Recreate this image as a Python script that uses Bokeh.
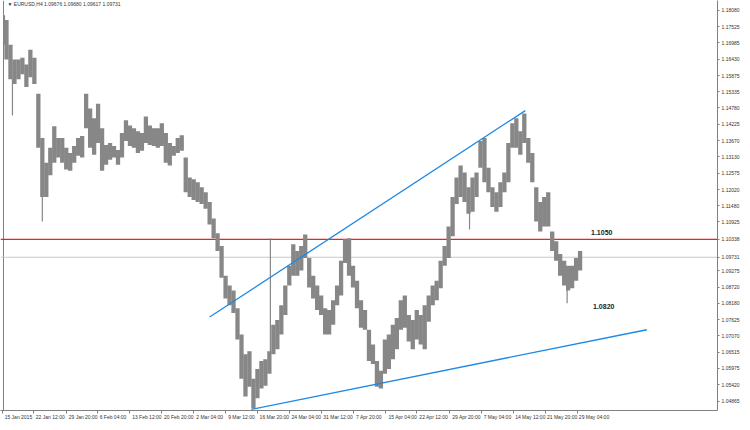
from bokeh.plotting import figure
from bokeh.models import Range1d, FixedTicker, PrintfTickFormatter, ColumnDataSource
from bokeh.core.properties import value
from bokeh.embed import file_html
from bokeh.resources import INLINE

# ---- data (EURUSD H4) ----
bar_x = [6, 10, 14, 18, 22, 26, 30, 34, 38, 42, 46, 50, 54, 58, 62, 66, 70, 74, 78, 82,
         86, 90, 94, 98, 102, 106, 110, 114, 118, 122, 126, 130, 134, 138, 142, 146, 150, 154, 158, 162,
         166, 170, 174, 178, 182, 186, 190, 194, 198, 202, 206, 210, 214, 218, 222, 226, 230, 234, 238, 242,
         246, 250, 254, 258, 262, 266, 270, 274, 278, 282, 286, 290, 294, 298, 302, 306, 310, 314, 318, 322,
         326, 330, 334, 338, 342, 346, 350, 354, 358, 362, 366, 370, 374, 378, 382, 386, 390, 394, 398, 402,
         406, 410, 414, 418, 422, 426, 430, 434, 438, 442, 446, 450, 454, 458, 462, 466, 470, 474, 478, 482,
         486, 490, 494, 498, 502, 506, 510, 514, 518, 522, 526, 530, 534, 538, 542, 546, 550, 554, 558, 562,
         566, 570, 574, 578, 582]
bar_high = [1.1775, 1.1692, 1.1642, 1.1642, 1.1648, 1.1625, 1.1675, 1.1648, 1.1526, 1.1376,
            1.1293, 1.1343, 1.1416, 1.1376, 1.1376, 1.1343, 1.1326, 1.1349, 1.1376, 1.1383,
            1.1526, 1.1476, 1.1443, 1.1492, 1.1409, 1.1353, 1.1359, 1.1349, 1.1336, 1.1393,
            1.1436, 1.1419, 1.1409, 1.1399, 1.1393, 1.1449, 1.1419, 1.1409, 1.1409, 1.1426,
            1.1393, 1.1359, 1.1349, 1.1376, 1.1386, 1.1310, 1.1243, 1.1237, 1.1227, 1.1210,
            1.1193, 1.1160, 1.1104, 1.1054, 1.1011, 1.0911, 1.0878, 1.0861, 1.0801, 1.0712,
            1.0645, 1.0655, 1.0562, 1.0595, 1.0622, 1.0628, 1.0655, 1.0745, 1.0761, 1.0811,
            1.0878, 1.0944, 1.1017, 1.0994, 1.1011, 1.1050, 1.0971, 1.0911, 1.0878, 1.0844,
            1.0801, 1.0795, 1.0828, 1.0878, 1.0961, 1.1034, 1.1037, 1.0944, 1.0894, 1.0828,
            1.0795, 1.0728, 1.0678, 1.0622, 1.0589, 1.0695, 1.0712, 1.0745, 1.0768, 1.0828,
            1.0844, 1.0778, 1.0761, 1.0795, 1.0778, 1.0811, 1.0844, 1.0878, 1.0894, 1.0961,
            1.1011, 1.1077, 1.1177, 1.1243, 1.1283, 1.1260, 1.1210, 1.1243, 1.1260, 1.1366,
            1.1376, 1.1276, 1.1210, 1.1193, 1.1227, 1.1260, 1.1359, 1.1426, 1.1443, 1.1399,
            1.1459, 1.1376, 1.1326, 1.1210, 1.1160, 1.1177, 1.1193, 1.1060, 1.1027, 1.0984,
            1.0961, 1.0944, 1.0944, 1.0971, 1.0994]
bar_low = [1.1642, 1.1575, 1.1559, 1.1575, 1.1592, 1.1549, 1.1582, 1.1559, 1.1343, 1.1177,
           1.1177, 1.1250, 1.1293, 1.1310, 1.1293, 1.1270, 1.1266, 1.1293, 1.1316, 1.1310,
           1.1409, 1.1343, 1.1320, 1.1359, 1.1266, 1.1286, 1.1303, 1.1310, 1.1286, 1.1310,
           1.1366, 1.1349, 1.1343, 1.1326, 1.1333, 1.1359, 1.1353, 1.1349, 1.1343, 1.1349,
           1.1293, 1.1283, 1.1316, 1.1326, 1.1333, 1.1193, 1.1177, 1.1167, 1.1160, 1.1153,
           1.1137, 1.1084, 1.1037, 1.0994, 1.0904, 1.0834, 1.0811, 1.0785, 1.0695, 1.0562,
           1.0502, 1.0535, 1.0462, 1.0496, 1.0529, 1.0539, 1.0579, 1.0645, 1.0662, 1.0712,
           1.0778, 1.0878, 1.0911, 1.0911, 1.0928, 1.0971, 1.0871, 1.0834, 1.0795, 1.0778,
           1.0712, 1.0712, 1.0745, 1.0811, 1.0844, 1.0954, 1.0911, 1.0871, 1.0801, 1.0735,
           1.0728, 1.0622, 1.0612, 1.0535, 1.0529, 1.0579, 1.0595, 1.0628, 1.0662, 1.0728,
           1.0735, 1.0688, 1.0662, 1.0695, 1.0678, 1.0662, 1.0755, 1.0811, 1.0828, 1.0868,
           1.0944, 1.0971, 1.1044, 1.1153, 1.1177, 1.1160, 1.1120, 1.1127, 1.1177, 1.1276,
           1.1227, 1.1193, 1.1143, 1.1127, 1.1143, 1.1193, 1.1227, 1.1343, 1.1343, 1.1320,
           1.1359, 1.1293, 1.1227, 1.1094, 1.1060, 1.1077, 1.1077, 1.0994, 1.0961, 1.0911,
           1.0878, 1.0861, 1.0868, 1.0894, 1.0928]

spike_x = [4, 12, 42, 271, 471, 569]
spike_high = [1.1791, 1.1575, 1.1193, 1.1037, 1.1127, 1.0878]
spike_low = [1.1692, 1.1452, 1.1094, 1.0652, 1.1067, 1.0818]

upper_trend_x = [210, 527]
upper_trend_price = [1.0771, 1.1469]
lower_trend_x = [252, 649]
lower_trend_price = [1.0459, 1.0728]

resistance_level = 1.10338
current_price = 1.09731

note_text = ["1.1050", "1.0820"]
note_x = [593, 595]
note_price = [1.1057, 1.0805]

header_text = "\u25bc EURUSD,H4  1.09676 1.09680 1.09617 1.09731"

price_ticks = [1.18080, 1.17525, 1.16985, 1.16430, 1.15875, 1.15335, 1.14780, 1.14225,
               1.13670, 1.13130, 1.12575, 1.12020, 1.11480, 1.10925, 1.10338, 1.09731,
               1.09275, 1.08720, 1.08180, 1.07625, 1.07070, 1.06515, 1.05975, 1.05420,
               1.04865, 1.04325]

date_labels = ["15 Jan 2015", "22 Jan 12:00", "29 Jan 20:00", "6 Feb 04:00", "13 Feb 12:00",
               "20 Feb 20:00", "2 Mar 04:00", "9 Mar 12:00", "16 Mar 20:00", "24 Mar 04:00",
               "31 Mar 12:00", "7 Apr 20:00", "15 Apr 04:00", "22 Apr 12:00", "29 Apr 20:00",
               "7 May 04:00", "14 May 12:00", "21 May 20:00", "29 May 04:00"]
date_sep_bars = [2, 33, 66, 97, 130, 162, 194, 226, 258, 290, 322, 354, 387, 418, 451, 483, 515, 547, 579]

FONT = "Liberation Sans"
GRAY = "#808080"
BAR = "#878787"

xr = Range1d(0, 720)
yr = Range1d(1.0455, 1.18412)
p = figure(width=742, height=422, x_range=xr, y_range=yr,
           output_backend="svg", toolbar_location=None, y_axis_location="right",
           min_border_left=0, min_border_right=22, min_border_top=0, min_border_bottom=10,
           background_fill_color="white", border_fill_color="white", outline_line_color=None)
p.xgrid.visible = False
p.ygrid.visible = False

# right price axis
ya = p.yaxis[0]
ya.ticker = FixedTicker(ticks=price_ticks)
ya.formatter = PrintfTickFormatter(format="%.5f")
ya.major_label_text_font = FONT
ya.major_label_text_font_size = "5px"
ya.major_label_text_color = "#333333"
ya.major_tick_out = 2
ya.major_tick_in = 0
ya.minor_tick_line_color = None
ya.major_label_standoff = 2
ya.axis_line_color = GRAY
ya.major_tick_line_color = GRAY

# bottom time axis: labels start right after separators
centers = [int(round(s + 2 + 1.25 * len(t))) for s, t in zip(date_sep_bars, date_labels)]
xa = p.xaxis[0]
xa.ticker = FixedTicker(ticks=centers, minor_ticks=date_sep_bars)
xa.major_label_overrides = {c: t for c, t in zip(centers, date_labels)}
xa.major_label_text_font = FONT
xa.major_label_text_font_size = "5px"
xa.major_label_text_color = "#333333"
xa.major_tick_line_color = None
xa.major_tick_out = 0
xa.major_tick_in = 0
xa.minor_tick_out = 3
xa.minor_tick_in = 0
xa.minor_tick_line_color = GRAY
xa.major_label_standoff = 0
xa.axis_line_color = GRAY

# frame left edge and horizontal levels, spanning the plot ranges
p.segment(x0=[3], y0=[yr.start], x1=[3], y1=[yr.end], line_color=GRAY, line_width=1)
p.segment(x0=[xr.start], y0=[current_price], x1=[xr.end], y1=[current_price],
          line_color="#c8c8c8", line_width=1)
p.segment(x0=[xr.start], y0=[resistance_level], x1=[xr.end], y1=[resistance_level],
          line_color="#ff1a1a", line_width=1.3)

# price bars
src = ColumnDataSource(dict(x=bar_x, top=bar_high, bottom=bar_low))
p.vbar(x="x", top="top", bottom="bottom", width=4.3, source=src,
       fill_color=BAR, line_color=None)
p.segment(x0=spike_x, y0=spike_low, x1=spike_x, y1=spike_high, line_color=BAR, line_width=1.2)

# trend lines
p.line(upper_trend_x, upper_trend_price, line_color="#1e88e5", line_width=1.3)
p.line(lower_trend_x, lower_trend_price, line_color="#1e88e5", line_width=1.3)

# annotations
p.text(x=note_x, y=note_price, text=note_text, text_font=value(FONT), text_font_size="7px",
       text_font_style="bold", text_color="#222222", text_baseline="middle", text_align="left")
p.text(x=[7], y=[1.1831], text=[header_text], text_font=value(FONT), text_font_size="5px",
       text_color="#333333", text_baseline="middle", text_align="left")

open("out.html", "w").write(file_html(p, INLINE))
